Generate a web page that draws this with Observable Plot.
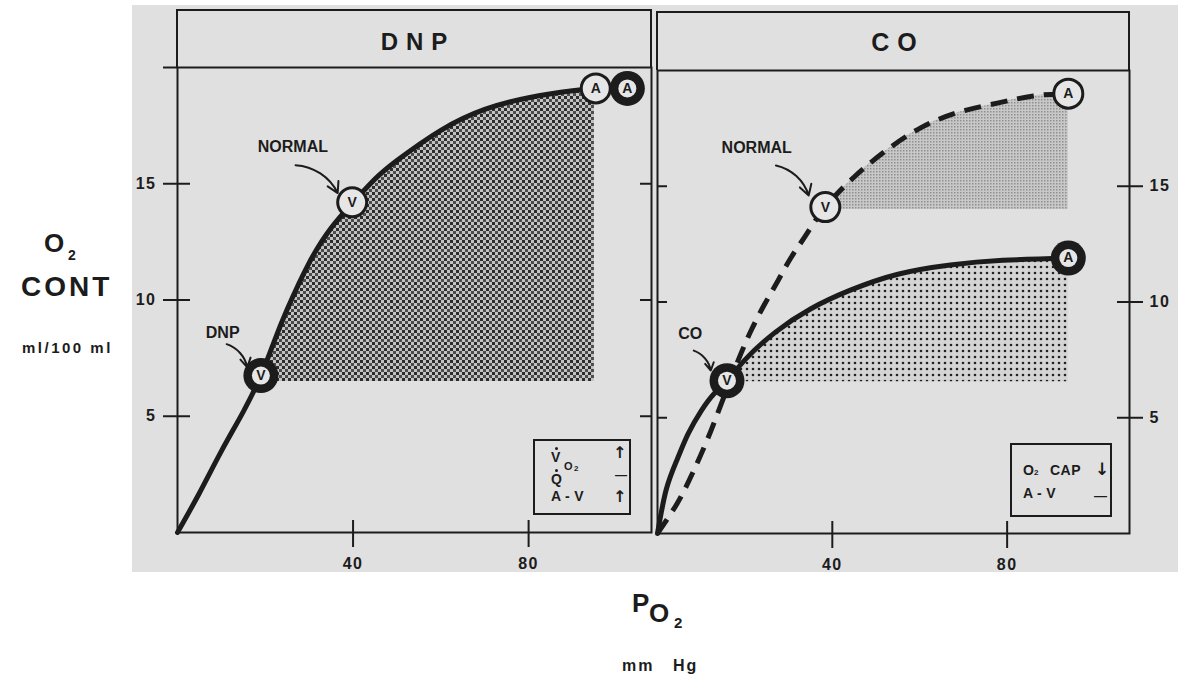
<!DOCTYPE html>
<html><head><meta charset="utf-8">
<script src="https://cdn.jsdelivr.net/npm/d3@7"></script>
<script src="https://cdn.jsdelivr.net/npm/@observablehq/plot@0.6"></script>
<style>
html,body{margin:0;padding:0;background:#fff;}
#wrap{position:relative;width:1178px;height:674px;overflow:hidden;font-family:"Liberation Sans",Arial,sans-serif;font-weight:bold;color:#1c1c1c;}
#bg{position:absolute;left:132px;top:5px;width:1046px;height:567px;background:#e0e0e0;}
.t{position:absolute;line-height:1;white-space:nowrap;}
.hdr{position:absolute;box-sizing:border-box;border:2px solid #1c1c1c;border-bottom:none;}
.leg{position:absolute;box-sizing:border-box;border:2px solid #1c1c1c;}
.dot{position:absolute;width:3px;height:3px;border-radius:50%;background:#1c1c1c;}
.panel{position:absolute;top:0;}
.panel svg{overflow:visible;background:none;}
g[aria-label="note"] text{letter-spacing:2.7px;}
g[aria-label$="tick label"] text{letter-spacing:1.5px;}
</style></head>
<body>
<svg width="0" height="0" style="position:absolute">
  <defs>
    <pattern id="patDNP" width="6" height="6" patternUnits="userSpaceOnUse">
      <rect width="6" height="6" fill="#c2c2c2"/>
      <rect x="0" y="0" width="3" height="3" fill="#2c2c2c"/>
      <rect x="3" y="3" width="3" height="3" fill="#4c4c4c"/>
    </pattern>
    <pattern id="patCO" width="6" height="6" patternUnits="userSpaceOnUse">
      <rect width="6" height="6" fill="#d4d4d4"/>
      <circle cx="3" cy="3" r="1.3" fill="#222"/>
    </pattern>
    <pattern id="patCOnormal" width="3" height="3" patternUnits="userSpaceOnUse">
      <rect width="3" height="3" fill="#c8c8c8"/>
      <rect x="0" y="0" width="1.5" height="1.5" fill="#909090"/>
    </pattern>
  </defs>
</svg>
<div id="wrap"><div id="bg"></div></div>
<script>
// ---------- data ----------
const panelNames = ["DNP", "CO"];
const xTickValues = [40, 80];
const yTickValues = [5, 10, 15];

// DNP panel: normal O2 content curve (PO2 mm Hg -> ml/100 ml)
const dnpPO2 = [0, 5, 10, 15, 19, 22, 25, 30, 35, 40, 45, 50, 60, 70, 80, 90, 95];
const dnpO2  = [0, 1.7, 3.5, 5.2, 6.75, 8.2, 9.6, 11.6, 13.1, 14.2, 15.2, 16.0, 17.3, 18.2, 18.7, 19.0, 19.1];

// CO panel: normal curve (dashed)
const coNormalPO2 = [0, 4.5, 8, 11.5, 15, 18.5, 21.5, 24.5, 27.5, 30.5, 34, 38.4, 45, 52, 60, 69, 78, 86, 94];
const coNormalO2  = [0, 1.3, 2.6, 4.1, 5.8, 7.5, 8.8, 9.9, 10.9, 11.9, 12.9, 14.1, 15.4, 16.5, 17.5, 18.2, 18.6, 18.9, 19.0];

// CO panel: curve with carbon monoxide (solid)
const coPO2 = [0, 2, 4.5, 7, 10, 13, 16, 20, 27, 35, 44, 55, 67, 79, 94];
const coO2  = [0, 1.9, 3.2, 4.3, 5.3, 6.05, 6.6, 7.5, 8.7, 9.7, 10.5, 11.2, 11.6, 11.8, 11.9];

// venous (V) and arterial (A) points
const markerPanel  = ["DNP", "DNP", "DNP", "DNP", "CO", "CO", "CO", "CO"];
const markerPO2    = [19, 39.8, 95.3, 102.5, 15.9, 38.4, 94, 94];
const markerO2     = [6.75, 14.2, 19.1, 19.1, 6.6, 14.1, 19.0, 11.9];
const markerLetter = ["V", "V", "A", "A", "V", "V", "A", "A"];
const markerFilled = [true, false, false, true, true, false, false, true];

// annotations
const notePanel = ["DNP", "DNP", "CO", "CO"];
const noteText  = ["NORMAL", "DNP", "NORMAL", "CO"];
const noteX     = [26, 10, 22.4, 7.2];
const noteY     = [16.6, 8.6, 16.65, 8.64];
const noteFromX = [26.9, 11.2, 27.1, 8.3];
const noteFromY = [15.8, 8.1, 15.9, 7.9];
const noteToX   = [36.5, 15.9, 34.6, 12.2];
const noteToY   = [14.6, 7.1, 14.6, 7.04];

// shaded arterio-venous regions
const shadePanel = ["DNP", "CO", "CO"];
const shadeCurve = ["dnp", "coNormal", "co"];
const shadeFrom  = [19, 38.4, 15.9];
const shadeTo    = [95, 94, 94];
const shadeBase  = [6.5, 14.0, 6.55];
const shadeFill  = ["url(#patDNP)", "url(#patCOnormal)", "url(#patCO)"];

const curves = {
  dnp: {panel: "DNP", x: dnpPO2, y: dnpO2, dashed: false},
  coNormal: {panel: "CO", x: coNormalPO2, y: coNormalO2, dashed: true},
  co: {panel: "CO", x: coPO2, y: coO2, dashed: false}
};

// ---------- layout ----------
const ink = "#1c1c1c";
const light = "#e6e6e6";
const layout = {
  DNP: {left: 132, width: 530, mL: 45, mR: 11, mT: 67, mB: 40, labels: "left"},
  CO:  {left: 612, width: 566, mL: 45, mR: 49, mT: 70, mB: 39, labels: "right"}
};
const wrap = document.getElementById("wrap");

function pts(key) {
  const c = curves[key];
  return c.x.map((x, i) => ({x, y: c.y[i]}));
}

function buildPanel(name) {
  const L = layout[name];
  const marks = [];
  shadePanel.forEach((p, i) => {
    if (p !== name) return;
    const base = shadeBase[i];
    const data = pts(shadeCurve[i]).filter(d => d.x >= shadeFrom[i] && d.x <= shadeTo[i]);
    marks.push(Plot.areaY(data, {x: "x", y1: () => base, y2: "y", fill: shadeFill[i], curve: "natural"}));
  });
  for (const key in curves) {
    const c = curves[key];
    if (c.panel !== name) continue;
    marks.push(Plot.line(pts(key), {
      x: "x", y: "y", stroke: ink, strokeWidth: 5, curve: "natural",
      strokeDasharray: c.dashed ? "17,10" : null, strokeLinecap: c.dashed ? "butt" : "round"
    }));
  }
  const notes = noteText.map((t, i) => ({
    panel: notePanel[i], t, x: noteX[i], y: noteY[i],
    x1: noteFromX[i], y1: noteFromY[i], x2: noteToX[i], y2: noteToY[i]
  })).filter(d => d.panel === name);
  marks.push(Plot.arrow(notes, {x1: "x1", y1: "y1", x2: "x2", y2: "y2", bend: 30, stroke: ink, strokeWidth: 2, headLength: 9}));
  marks.push(Plot.text(notes, {x: "x", y: "y", text: "t", fontSize: 16, fontWeight: "bold", fill: ink, ariaLabel: "note", dx: 1.3}));

  const ms = markerLetter.map((l, i) => ({
    panel: markerPanel[i], l, x: markerPO2[i], y: markerO2[i], filled: markerFilled[i]
  })).filter(d => d.panel === name);
  marks.push(Plot.dot(ms.filter(d => !d.filled), {x: "x", y: "y", r: 14.5, fill: light, stroke: ink, strokeWidth: 3}));
  marks.push(Plot.dot(ms.filter(d => d.filled), {x: "x", y: "y", r: 17.5, fill: ink}));
  marks.push(Plot.dot(ms.filter(d => d.filled), {x: "x", y: "y", r: 9, fill: light}));
  marks.push(Plot.text(ms, {x: "x", y: "y", text: "l", fontSize: 14, fontWeight: "bold", fill: ink, ariaLabel: "letters"}));
  marks.push(Plot.frame({stroke: ink, strokeWidth: 2}));

  const lab = {fontSize: 16, fontWeight: "bold", strokeWidth: 2, label: null};
  const none = {tickFormat: () => "", strokeWidth: 2, label: null};
  if (L.labels === "left") {
    marks.push(Plot.axisY([...yTickValues, 20], {anchor: "left", tickSize: 14, tickPadding: 7, tickFormat: d => d === 20 ? "" : String(d), ...lab}));
    marks.push(Plot.axisY(yTickValues, {anchor: "left", tickSize: -13, ...none}));
    marks.push(Plot.axisY(yTickValues, {anchor: "right", tickSize: -12, ...none}));
  } else {
    marks.push(Plot.axisY(yTickValues, {anchor: "left", tickSize: -10, ...none}));
    marks.push(Plot.axisY(yTickValues, {anchor: "right", tickSize: 13, tickPadding: 7, ...lab}));
    marks.push(Plot.axisY(yTickValues, {anchor: "right", tickSize: -13, ...none}));
  }
  marks.push(Plot.axisX(xTickValues, {anchor: "bottom", tickSize: 15, tickPadding: 10, ...lab}));
  marks.push(Plot.axisX(xTickValues, {anchor: "bottom", tickSize: -12, ...none}));

  const svg = Plot.plot({
    width: L.width, height: 572,
    marginLeft: L.mL, marginRight: L.mR, marginTop: L.mT, marginBottom: L.mB,
    x: {domain: [0, 108]}, y: {domain: [0, 20]},
    style: {background: "none", overflow: "visible", color: ink, fontFamily: "'Liberation Sans', Arial, sans-serif"},
    marks
  });
  const div = document.createElement("div");
  div.className = "panel";
  div.style.left = L.left + "px";
  div.appendChild(svg);
  wrap.appendChild(div);
}

function put(text, left, capTop, size, style = {}) {
  const s = document.createElement("div");
  s.className = "t";
  s.textContent = text;
  s.style.left = left + "px";
  s.style.top = (capTop - 0.13 * size) + "px";
  s.style.fontSize = size + "px";
  Object.assign(s.style, style);
  wrap.appendChild(s);
  return s;
}
function box(cls, left, top, w, h) {
  const d = document.createElement("div");
  d.className = cls;
  Object.assign(d.style, {left: left + "px", top: top + "px", width: w + "px", height: h + "px"});
  wrap.appendChild(d);
}

// headers
box("hdr", 176, 9, 476, 58);
box("hdr", 656, 11, 474, 59);
put(panelNames[0], 414, 33, 24, {letterSpacing: "8px", transform: "translateX(-50%)", paddingLeft: "8px"});
put(panelNames[1], 894, 33, 25, {letterSpacing: "8px", transform: "translateX(-50%)", paddingLeft: "8px"});

panelNames.forEach(buildPanel);

// legends
box("leg", 533, 439, 98, 76);
box("dot", 555, 447, 3, 3);
put("V", 551, 452, 14);
put("O", 564, 462, 11);
put("2", 574, 466, 8);
box("dot", 555, 469, 3, 3);
put("Q", 551, 474, 14);
put("A - V", 551, 491, 14, {letterSpacing: "0.3px"});
put("\u2191", 613, 447, 16, {fontFamily: "'DejaVu Sans'"});
put("\u2014", 615, 471, 12);
put("\u2191", 613, 491, 16, {fontFamily: "'DejaVu Sans'"});

box("leg", 1010, 443, 102, 74);
put("O", 1023, 465, 14);
put("2", 1034, 470, 8);
put("CAP", 1050, 465, 14, {letterSpacing: "0.5px"});
put("\u2193", 1095, 463, 17, {fontFamily: "'DejaVu Sans'"});
put("A - V", 1023, 488, 14, {letterSpacing: "0.3px"});
put("\u2014", 1094, 491, 13);

// axis titles
put("O", 44, 233, 26);
put("2", 68, 250, 14);
put("CONT", 21, 277, 28, {letterSpacing: "3px"});
put("ml/100 ml", 22, 342, 15, {letterSpacing: "2.5px"});
put("P", 632, 593, 26);
put("O", 649, 603, 26);
put("2", 674, 617, 15);
put("mm Hg", 622, 660, 16, {letterSpacing: "2px", wordSpacing: "12px"});
</script>
</body></html>
